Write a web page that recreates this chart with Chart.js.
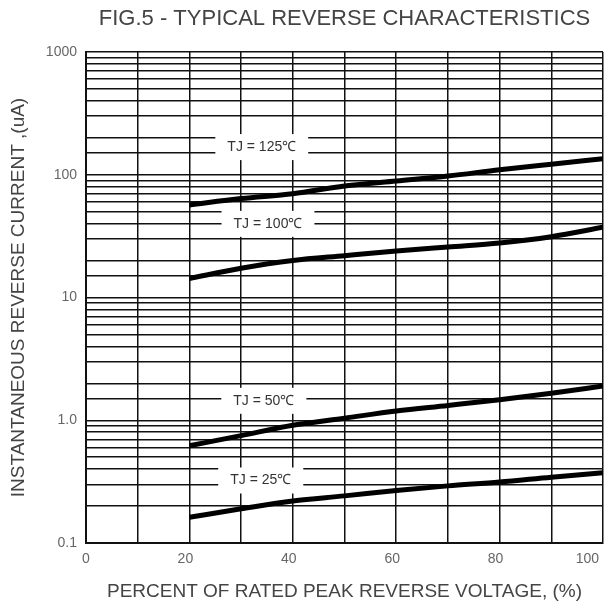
<!DOCTYPE html>
<html>
<head>
<meta charset="utf-8">
<script src="https://cdn.jsdelivr.net/npm/chart.js@4/dist/chart.umd.min.js"></script>
<style>
html, body { margin: 0; padding: 0; background: #fff; }
#wrap { width: 605px; height: 610px; }
</style>
</head>
<body>
<div id="wrap"><canvas id="graph-1" width="605" height="610"></canvas></div>
<script>
// values (percent of rated voltage -> uA)
const voltagePct = [20, 30, 40, 50, 60, 70, 80, 90, 100];
const current125 = [56.7, 64, 70, 81, 89, 97.5, 110, 122, 135];
const current100 = [14.3, 17.3, 20, 21.9, 23.9, 25.8, 27.8, 31.3, 37.3];
const current50 = [0.62, 0.75, 0.91, 1.04, 1.19, 1.32, 1.47, 1.66, 1.9];
const current25 = [0.162, 0.19, 0.22, 0.242, 0.268, 0.292, 0.314, 0.344, 0.374];
const seriesNames = ['TJ = 125℃', 'TJ = 100℃', 'TJ = 50℃', 'TJ = 25℃'];
const yTickLabels = ['0.1', '1.0', '10', '100', '1000'];
const xTickLabels = ['0', '20', '40', '60', '80', '100'];

const chartTitle = 'FIG.5 - TYPICAL REVERSE CHARACTERISTICS';
const xTitle = 'PERCENT OF RATED PEAK REVERSE VOLTAGE, (%)';
const yTitle = 'INSTANTANEOUS REVERSE CURRENT ,(uA)';

// where the curve names sit (data coords)
const labelSpots = [
    { x: 34, y: 168 },
    { x: 35.2, y: 39.8 },
    { x: 34.4, y: 1.44 },
    { x: 33.8, y: 0.323 }
];

const FONT = '"Liberation Sans", Arial, sans-serif';

function toPoints(ys) {
    return voltagePct.map((v, i) => ({ x: v, y: ys[i] }));
}

const allSeries = [current125, current100, current50, current25];

const figText = {
    id: 'figText',
    afterDraw(chart) {
        const { ctx, chartArea, scales } = chart;
        ctx.save();
        ctx.textAlign = 'center';
        ctx.textBaseline = 'middle';
        ctx.fillStyle = '#444';
        ctx.font = '22px ' + FONT;
        ctx.fillText(chartTitle, (chartArea.left + chartArea.right) / 2, 19);

        ctx.font = '14px ' + FONT;
        labelSpots.forEach((s, i) => {
            const px = scales.x.getPixelForValue(s.x);
            const py = scales.y.getPixelForValue(s.y);
            const w = ctx.measureText(seriesNames[i]).width;
            ctx.fillStyle = '#fff';
            ctx.fillRect(px - w / 2 - 12, py - 13, w + 24, 26);
            ctx.fillStyle = '#333';
            ctx.fillText(seriesNames[i], px, py);
        });
        ctx.restore();
    }
};

const ctx = document.getElementById('graph-1').getContext('2d');
const chart = new Chart(ctx, {
    type: 'line',
    data: {
        datasets: allSeries.map((ys, i) => ({
            label: seriesNames[i],
            data: toPoints(ys),
            borderColor: '#000',
            borderWidth: 5,
            pointRadius: 0,
            fill: false,
            cubicInterpolationMode: 'monotone'
        }))
    },
    options: {
        responsive: false,
        animation: false,
        devicePixelRatio: 1,
        layout: { padding: { top: 52, right: 2, left: 0, bottom: 0 } },
        plugins: {
            legend: { display: false },
            tooltip: { enabled: false },
            title: { display: false }
        },
        scales: {
            x: {
                type: 'linear',
                min: 0,
                max: 100,
                grid: { color: '#111', lineWidth: 1.5, drawTicks: false },
                border: { color: '#111', width: 2 },
                ticks: {
                    stepSize: 10,
                    autoSkip: false,
                    maxRotation: 0,
                    align: 'inner',
                    labelOffset: -4,
                    padding: 8,
                    color: '#666',
                    font: { family: FONT, size: 14 },
                    callback: v => {
                        const s = String(v);
                        return xTickLabels.includes(s) ? s : '';
                    }
                },
                title: {
                    display: true,
                    text: xTitle,
                    color: '#444',
                    font: { family: FONT, size: 19 },
                    padding: { top: 0, bottom: 7 }
                },
                afterFit: scale => {
                    scale.height = 67;
                    scale.paddingLeft = 0;
                    scale.paddingRight = 0;
                }
            },
            y: {
                type: 'logarithmic',
                min: 0.1,
                max: 1000,
                grid: { color: '#111', lineWidth: 1.5, drawTicks: false },
                border: { color: '#111', width: 2 },
                ticks: {
                    autoSkip: false,
                    padding: 9,
                    color: '#666',
                    font: { family: FONT, size: 14 },
                    callback: v => {
                        const l = Math.log10(v);
                        if (Math.abs(l - Math.round(l)) > 1e-6) return '';
                        return yTickLabels[Math.round(l) + 1] || '';
                    }
                },
                title: {
                    display: true,
                    text: yTitle,
                    color: '#444',
                    font: { family: FONT, size: 19 },
                    padding: { top: 7, bottom: 0 }
                },
                afterFit: scale => {
                    scale.width = 86;
                    scale.paddingTop = 0;
                    scale.paddingBottom = 0;
                }
            }
        }
    },
    plugins: [figText]
});
</script>
</body>
</html>
